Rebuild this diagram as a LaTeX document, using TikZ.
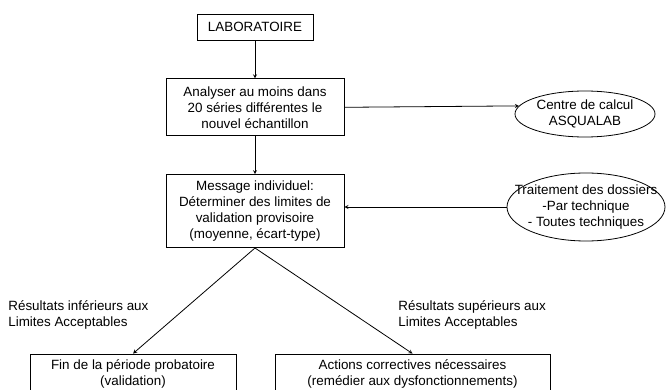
\documentclass[tikz,border=0pt]{standalone}
\usepackage{fontspec}
\setmainfont{Liberation Sans}
\usetikzlibrary{shapes,positioning}

\begin{document}
\begin{tikzpicture}[->,>=stealth,x=1pt,y=-1pt,node distance=38pt,line width=0.8pt,
    font=\fontsize{13.4}{16}\selectfont,
    box node/.style={draw,rectangle,align=center,inner sep=2pt},
    oval node/.style={draw,ellipse,inner sep=0pt},
    cond node/.style={align=left,anchor=west,inner sep=0pt}]

    \useasboundingbox (0,0) rectangle (667,390);

    % colonne principale
    \node[box node,minimum width=116pt,minimum height=26pt] (lab) at (255,27) {LABORATOIRE};
    \node[box node,minimum width=178pt,minimum height=57pt] (ana) [below=of lab]
        {Analyser au moins dans\\20 s\'eries diff\'erentes le\\nouvel \'echantillon};
    \node[box node,minimum width=178pt,minimum height=73pt] (msg) [below=of ana]
        {Message individuel:\\D\'eterminer des limites de\\validation provisoire\\(moyenne, \'ecart-type)};

    % ellipses a droite
    \node[oval node,minimum width=140pt,minimum height=46pt,
        label={[align=center]center:Centre de calcul\\ASQUALAB}] (calc) at (585,114) {};
    \node[oval node,minimum width=158pt,minimum height=68pt,
        label={[align=center]center:Traitement des dossiers\\-Par technique\\- Toutes techniques}] (trait) at (586,207) {};

    % issues
    \node[box node,minimum width=206pt,minimum height=40pt] (fin) at (133,374)
        {Fin de la p\'eriode probatoire\\(validation)};
    \node[box node,minimum width=275pt,minimum height=40pt] (act) at (412.5,374)
        {Actions correctives n\'ecessaires\\(rem\'edier aux dysfonctionnements)};

    \node[cond node] (inf) at (8,315) {R\'esultats inf\'erieurs aux\\Limites Acceptables};
    \node[cond node] (sup) at (398,315) {R\'esultats sup\'erieurs aux\\Limites Acceptables};

    \path
        (lab) edge (ana)
        (ana) edge (msg)
        (ana.east) edge (calc.173)
        (trait.west) edge (trait.west -| msg.east)
        (msg.south) edge (fin.north)
        (msg.south) edge (act.north)
    ;

\end{tikzpicture}
\end{document}
